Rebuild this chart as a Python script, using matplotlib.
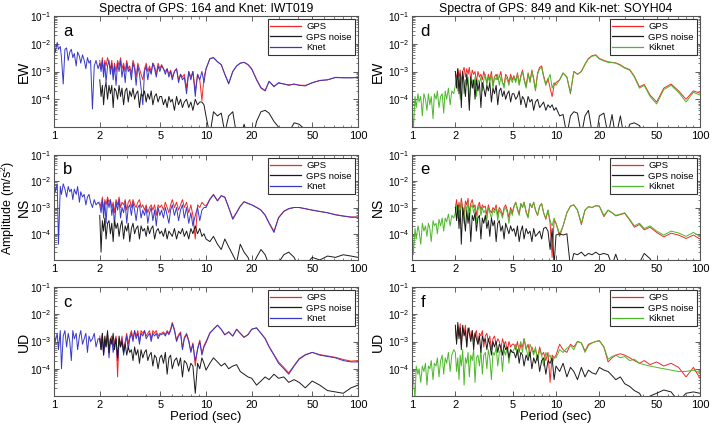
import matplotlib
matplotlib.use('Agg')
import matplotlib.pyplot as plt
import numpy as np
from matplotlib.ticker import LogLocator, NullFormatter, FixedLocator, FixedFormatter
from matplotlib.lines import Line2D

plt.rcParams['font.family'] = ['Liberation Sans', 'DejaVu Sans']
plt.rcParams['mathtext.default'] = 'regular'

# ---------------- data (amplitudes stored as log10 exponents) ----------------
period = [1.00, 1.02, 1.05, 1.07, 1.10, 1.12, 1.15, 1.18, 1.21, 1.24, 1.27, 1.30, 1.33, 1.36,
          1.40, 1.43, 1.47, 1.50, 1.54, 1.58, 1.62, 1.66, 1.70, 1.74, 1.79, 1.84, 1.89, 1.95,
          2.00, 2.04, 2.08, 2.12, 2.16, 2.20, 2.25, 2.30, 2.35, 2.40, 2.45, 2.50, 2.56, 2.62,
          2.68, 2.74, 2.80, 2.87, 2.94, 3.01, 3.08, 3.15, 3.23, 3.31, 3.39, 3.47, 3.56, 3.65,
          3.74, 3.84, 3.94, 4.04, 4.14, 4.25, 4.36, 4.47, 4.59, 4.71, 4.84, 4.97,
          5.1, 5.25, 5.4, 5.55, 5.7, 5.85, 6.0, 6.2, 6.4, 6.6, 6.8, 7.0, 7.2, 7.45, 7.7, 7.95,
          8.2, 8.5, 8.8, 9.1, 9.4, 9.7,
          10, 10.6, 11.2, 11.9, 12.6, 13.3, 14.1, 15, 15.9, 16.8, 17.8, 18.9,
          20, 21.5, 23, 24.5, 26, 28, 30, 32.5, 35, 38, 41, 45, 50, 56, 63, 71, 80, 90, 100]
gps_start = 28  # GPS spectra start at 2 s

# Panel a: EW, Knet IWT019
a_knet = [-2.0, -2.3, -1.95, -2.2, -2.1, -2.5, -3.45, -2.2, -2.15, -2.6, -2.3, -2.2, -2.5, -2.35, -2.8,
          -2.3, -2.45, -2.7, -2.4, -2.6, -2.9, -2.5, -2.7, -2.6, -4.35, -2.8, -2.6, -2.9,
          -2.7, -3.0, -2.6, -3.2, -2.7, -3.4, -2.8, -2.6, -3.1, -2.7, -3.3, -2.8, -3.5, -2.7, -3.0,
          -2.6, -3.2, -2.8, -3.4, -2.7, -3.0, -2.9, -3.3, -2.7, -2.9, -3.5, -2.8, -3.1, -3.6, -4.2,
          -3.0, -2.8, -3.3, -2.9, -3.1, -2.7, -2.9, -3.2, -2.8, -3.0,
          -2.8, -2.9, -3.1, -2.9, -3.2, -3.0, -3.3, -3.0, -2.9, -3.4, -3.1, -3.3, -3.2, -3.8, -3.0,
          -3.3, -3.0, -3.9, -3.1, -3.3, -3.0, -3.4,
          -2.9, -2.55, -2.5, -2.65, -2.75, -3.1, -3.45, -3.0, -2.8, -2.7, -2.67, -2.75,
          -2.9, -3.3, -3.6, -3.7, -3.35, -3.55, -3.4, -3.45, -3.5, -3.45, -3.5, -3.52, -3.4, -3.33,
          -3.3, -3.22, -3.23, -3.23, -3.22]
a_gps = [-2.6, -2.9, -2.5, -3.0, -2.6, -2.8, -2.5, -2.7, -2.9, -2.6, -3.1, -2.7, -3.0, -2.6, -2.8,
         -2.5, -2.9, -2.7, -3.0, -2.6, -2.9, -2.8, -3.1, -2.6, -2.8, -3.2, -2.7, -2.9, -3.1, -3.3,
         -2.9, -2.7, -3.0, -2.8, -3.0, -2.7, -2.8, -3.1, -2.7, -2.9,
         -2.75, -2.9, -3.0, -2.9, -3.1, -2.95, -3.2, -3.0, -2.9, -3.3, -3.1, -3.2, -3.1, -3.6, -3.0,
         -3.2, -3.0, -3.7, -3.1, -3.3, -4.05, -3.2,
         -2.92, -2.53, -2.5, -2.65, -2.76, -3.1, -3.42, -3.0, -2.8, -2.7, -2.67, -2.76,
         -2.92, -3.28, -3.58, -3.68, -3.36, -3.53, -3.42, -3.45, -3.48, -3.46, -3.49, -3.5, -3.41,
         -3.32, -3.3, -3.21, -3.22, -3.22, -3.21]
a_noise = [-3.3, -3.9, -3.5, -4.2, -3.6, -3.4, -4.0, -3.5, -3.8, -3.5, -4.3, -3.6, -3.7, -4.0, -3.5,
           -3.9, -3.6, -4.2, -3.7, -3.6, -4.1, -3.7, -3.9, -3.6, -4.0, -3.8, -3.7, -4.3, -3.8, -3.9,
           -3.7, -4.1, -3.8, -4.0, -3.7, -4.2, -3.9, -3.8, -4.1, -3.9,
           -3.9, -4.2, -4.0, -4.3, -3.9, -4.1, -4.0, -4.4, -3.9, -4.2, -4.0, -4.3, -4.1, -4.0, -4.3,
           -4.1, -4.4, -4.0, -4.2, -4.1, -4.1, -4.2,
           -4.6, -5.3, -4.45, -4.6, -4.5, -5.2, -4.6, -4.45, -5.3, -5.5, -4.9, -5.4,
           -5.6, -4.8, -4.45, -4.4, -4.5, -4.8, -5.0, -5.3, -5.2, -4.85, -4.9, -5.1, -5.3, -5.5,
           -5.4, -5.6, -5.5, -5.7, -5.6]

# Panel b: NS, Knet IWT019
b_knet = [-2.0, -2.4, -2.1, -4.4, -2.2, -2.5, -2.1, -2.3, -2.6, -2.2, -2.4, -2.3, -2.7, -2.3, -2.5,
          -2.2, -2.8, -2.4, -2.6, -2.5, -2.9, -2.6, -2.5, -2.8, -3.0, -2.7, -2.9, -2.8,
          -2.9, -3.2, -2.7, -3.4, -2.8, -3.6, -2.7, -3.0, -2.7, -3.3, -2.9, -3.7, -2.8, -3.1, -2.7,
          -3.4, -3.0, -3.2, -2.8, -3.6, -3.0, -2.9, -3.3, -2.8, -3.1, -3.5, -3.0, -2.9, -3.4, -3.1,
          -3.3, -3.0, -3.6, -3.2, -3.0, -3.5, -3.1, -3.7, -3.0, -3.3,
          -3.1, -3.4, -3.0, -3.3, -3.6, -3.1, -2.9, -3.3, -3.0, -3.5, -3.1, -2.9, -3.4, -3.0, -3.6,
          -3.2, -3.7, -3.3, -3.0, -3.5, -3.1, -3.0,
          -3.0, -2.7, -2.52, -2.75, -2.55, -2.6, -3.0, -3.45, -3.2, -2.95, -2.78, -2.85,
          -2.9, -3.0, -3.1, -3.3, -3.6, -3.95, -3.4, -3.15, -3.05, -3.0, -3.0, -3.05, -3.1, -3.15,
          -3.2, -3.28, -3.33, -3.37, -3.37]
b_gps = [-2.8, -3.0, -2.6, -3.1, -2.7, -2.9, -2.6, -2.8, -2.7, -3.0, -2.8, -3.2, -2.7, -2.9, -2.6,
         -3.0, -2.8, -2.9, -2.7, -3.1, -2.8, -2.7, -3.0, -2.7, -2.9, -3.0, -2.8, -2.7, -3.0, -2.9,
         -3.1, -2.9, -3.2, -3.0, -2.9, -3.1, -2.9, -3.3, -2.9, -3.0,
         -2.9, -3.1, -2.8, -3.0, -3.2, -2.9, -2.7, -3.0, -2.8, -3.1, -2.9, -2.7, -3.0, -2.8, -3.2,
         -2.9, -3.3, -4.2, -2.9, -3.0, -2.8, -2.9,
         -2.95, -2.68, -2.5, -2.74, -2.55, -2.62, -3.0, -3.42, -3.18, -2.95, -2.78, -2.84,
         -2.9, -2.99, -3.1, -3.28, -3.58, -3.9, -3.38, -3.14, -3.04, -3.0, -3.0, -3.04, -3.1,
         -3.15, -3.2, -3.27, -3.32, -3.36, -3.36]
b_noise = [-3.3, -4.7, -3.5, -3.9, -3.4, -4.2, -3.6, -3.5, -4.0, -3.6, -4.3, -3.5, -3.8, -3.6, -4.1,
           -3.7, -3.5, -4.2, -3.7, -3.9, -3.6, -4.3, -3.8, -3.6, -4.0, -3.8, -3.7, -4.2, -3.7, -3.9,
           -3.8, -4.1, -3.7, -4.0, -3.8, -3.7, -4.2, -3.9, -3.8, -4.0,
           -3.9, -4.1, -3.8, -4.2, -3.9, -4.0, -4.1, -3.8, -4.2, -3.9, -4.0, -3.8, -4.1, -3.9, -4.2,
           -3.8, -4.0, -3.7, -4.0, -3.8, -4.1, -4.0,
           -4.2, -4.3, -4.1, -4.4, -4.6, -4.2, -4.5, -4.8, -5.1, -4.4, -4.7, -4.9,
           -5.3, -4.9, -4.6, -4.8, -5.2, -5.4, -5.1, -4.8, -4.7, -4.9, -5.3, -5.2, -4.9, -5.0,
           -4.85, -4.9, -4.8, -4.85, -4.9]

# Panel c: UD, Knet IWT019
c_knet = [-2.6, -3.0, -2.7, -3.3, -2.6, -4.0, -2.8, -2.6, -3.2, -2.7, -3.0, -3.7, -2.6, -2.9, -2.7,
          -3.3, -2.8, -2.6, -3.1, -2.9, -2.7, -3.4, -2.8, -3.0, -2.9, -2.7, -3.2, -2.9,
          -2.9, -3.3, -2.8, -3.5, -3.0, -3.2, -2.8, -3.6, -3.0, -2.9, -3.4, -3.1, -2.9, -3.7, -3.0,
          -3.2, -2.9, -3.5, -3.1, -2.8, -3.3, -2.9, -2.7, -3.0, -2.6, -2.9, -2.7, -3.1, -2.7, -2.8,
          -2.6, -2.9, -2.8, -2.7, -3.0, -2.7, -2.8, -2.7, -2.9, -2.75,
          -2.75, -2.7, -2.8, -2.65, -2.75, -2.6, -2.35, -2.6, -3.0, -2.8, -2.7, -3.3, -2.9, -2.75,
          -3.0, -3.4, -3.1, -3.7, -3.3, -3.0, -3.5, -3.2,
          -3.05, -2.7, -2.55, -2.4, -2.55, -2.75, -2.65, -2.8, -2.55, -2.7, -2.85, -2.75,
          -2.55, -2.5, -2.7, -2.9, -3.2, -3.5, -3.8, -4.0, -4.2, -3.9, -3.65, -3.5, -3.4, -3.5,
          -3.55, -3.6, -3.7, -3.75, -3.75]
c_gps = [-2.8, -3.2, -2.7, -3.4, -2.9, -3.1, -2.7, -3.4, -2.9, -2.8, -3.2, -3.0, -2.8, -4.3, -2.9,
         -3.1, -2.8, -3.3, -3.0, -2.7, -3.1, -2.8, -2.6, -2.9, -2.6, -2.8, -2.6, -3.0, -2.6, -2.7,
         -2.6, -2.8, -2.7, -2.6, -2.9, -2.6, -2.7, -2.6, -2.8, -2.7,
         -2.7, -2.65, -2.75, -2.6, -2.7, -2.55, -2.3, -2.55, -2.95, -2.75, -2.65, -3.25, -2.85,
         -2.7, -2.95, -3.35, -3.05, -3.9, -3.25, -2.95, -3.45, -3.15,
         -3.0, -2.68, -2.55, -2.4, -2.56, -2.76, -2.64, -2.8, -2.55, -2.7, -2.84, -2.74,
         -2.55, -2.5, -2.7, -2.88, -3.18, -3.48, -3.75, -3.95, -4.15, -3.88, -3.63, -3.48, -3.4,
         -3.48, -3.53, -3.58, -3.66, -3.72, -3.7]
c_noise = [-2.9, -3.3, -2.7, -3.5, -2.8, -3.2, -2.6, -3.4, -2.9, -3.1, -2.7, -3.3, -2.9, -3.6, -2.8,
           -3.2, -3.0, -3.4, -3.1, -3.5, -3.2, -3.4, -3.3, -3.7, -3.2, -3.5, -3.3, -3.8, -3.3, -3.6,
           -3.4, -3.3, -3.7, -3.5, -3.4, -3.9, -3.5, -3.6, -4.0, -3.6,
           -3.5, -3.8, -3.4, -4.2, -3.6, -3.5, -4.0, -3.7, -3.6, -3.9, -3.6, -4.3, -3.7, -3.8, -4.1,
           -3.8, -3.9, -4.9, -3.8, -4.0, -3.6, -3.8,
           -4.05, -3.8, -3.6, -3.75, -3.9, -3.8, -4.0, -3.9, -3.85, -4.1, -4.2, -4.3,
           -4.35, -4.6, -4.45, -4.3, -4.4, -4.2, -4.35, -4.3, -4.5, -4.4, -4.5, -4.7, -4.45, -4.6,
           -4.8, -4.85, -4.9, -4.7, -4.6]

# Panel d: EW, Kik-net SOYH04
d_kik = [-4.0, -5.2, -3.9, -4.3, -3.8, -4.1, -3.9, -4.6, -3.8, -4.0, -4.4, -3.8, -4.2, -3.9, -4.7,
         -3.8, -4.0, -3.7, -4.3, -3.9, -3.8, -4.5, -3.7, -4.0, -3.6, -4.2, -3.7, -3.8,
         -3.5, -3.2, -3.7, -3.3, -4.0, -3.4, -3.2, -3.8, -3.3, -3.5, -3.2, -4.1, -3.4, -3.3, -3.6,
         -3.2, -3.9, -3.3, -3.4, -3.2, -3.7, -3.3, -3.1, -3.5, -3.2, -3.4, -3.1, -3.6, -3.2, -3.3,
         -3.1, -3.5, -3.2, -3.4, -3.6, -3.2, -3.3, -3.5, -3.2, -3.4,
         -3.2, -3.4, -3.1, -3.5, -3.2, -3.0, -3.3, -3.6, -3.1, -3.4, -3.0, -3.3, -3.7, -3.1, -2.9,
         -2.85, -3.2, -3.5, -3.3, -3.1, -3.6, -3.4,
         -3.5, -3.3, -3.06, -3.2, -3.75, -3.0, -3.1, -3.0, -2.75, -2.55, -2.45, -2.42,
         -2.55, -2.62, -2.67, -2.68, -2.7, -2.78, -2.88, -2.95, -3.2, -3.6, -3.5, -3.9, -4.17,
         -3.65, -3.5, -3.75, -4.1, -3.75, -3.85]
d_gps = [-3.0, -3.3, -2.9, -3.2, -2.95, -3.4, -3.0, -2.85, -3.2, -2.9, -3.1, -2.85, -3.3, -2.95,
         -3.1, -3.0, -3.4, -3.0, -3.2, -3.1, -3.3, -3.0, -3.2, -3.4, -3.1, -3.3, -3.0, -3.5, -3.2,
         -3.1, -3.3, -3.2, -3.0, -3.4, -3.5, -3.1, -3.2, -3.4, -3.1, -3.3,
         -3.15, -3.35, -3.05, -3.45, -3.15, -2.95, -3.25, -3.55, -3.05, -3.35, -2.95, -3.25, -3.65,
         -3.05, -2.85, -2.8, -3.15, -3.45, -3.25, -3.6, -3.9, -3.5,
         -3.4, -3.3, -3.05, -3.2, -3.8, -3.0, -3.1, -3.0, -2.73, -2.53, -2.43, -2.4,
         -2.53, -2.6, -2.65, -2.67, -2.69, -2.76, -2.86, -2.93, -3.17, -3.55, -3.47, -3.85, -4.1,
         -3.6, -3.45, -3.7, -4.0, -3.7, -3.78]
d_noise = [-3.0, -3.6, -2.9, -3.8, -3.1, -4.3, -3.0, -3.4, -3.9, -3.1, -3.5, -4.4, -3.2, -3.6, -3.3,
           -4.0, -3.3, -3.7, -3.4, -4.3, -3.4, -3.6, -3.9, -3.5, -3.7, -3.4, -4.1, -3.6, -3.8, -3.5,
           -4.2, -3.7, -3.6, -3.9, -3.7, -4.0, -3.8, -3.7, -4.1, -3.8,
           -3.8, -4.0, -3.9, -3.7, -4.2, -3.9, -4.0, -4.3, -3.9, -4.1, -4.0, -4.4, -4.1, -4.0, -4.3,
           -4.2, -4.1, -4.4, -4.2, -4.3, -4.2, -4.4,
           -4.3, -4.6, -4.55, -5.3, -4.6, -4.45, -4.5, -5.3, -4.6, -4.4, -5.2, -5.5,
           -4.6, -4.5, -5.3, -4.55, -5.4, -4.6, -5.5, -4.9, -4.85, -4.95, -5.3, -5.6, -5.7, -5.8,
           -5.7, -5.9, -5.8, -5.9, -6.0]

# Panel e: NS, Kik-net SOYH04
e_kik = [-3.75, -4.8, -3.8, -4.2, -3.7, -3.9, -4.4, -3.6, -3.9, -3.7, -4.1, -3.6, -3.8, -4.3, -3.5,
         -3.7, -3.6, -4.0, -3.45, -3.7, -3.4, -3.9, -3.4, -3.55, -3.25, -3.7, -3.3, -3.4,
         -3.2, -2.9, -3.4, -3.0, -3.3, -2.8, -3.2, -3.6, -2.9, -3.1, -2.8, -3.5, -3.0, -2.9, -3.2,
         -3.0, -3.6, -3.1, -2.9, -3.3, -3.0, -3.2, -3.1, -3.5, -3.0, -3.2, -3.4, -3.1, -3.2, -3.0,
         -3.5, -3.1, -3.2, -3.4, -3.1, -3.0, -3.2, -3.6, -3.1, -3.3,
         -3.0, -2.8, -3.1, -3.3, -2.85, -3.0, -2.8, -3.2, -3.4, -2.85, -3.0, -2.8, -3.1, -3.3,
         -2.95, -2.85, -3.2, -3.4, -3.1, -3.5, -3.7, -3.4,
         -3.6, -4.0, -3.7, -3.2, -2.95, -2.9, -3.1, -3.6, -3.1, -2.97, -3.0, -2.93,
         -2.95, -3.3, -3.1, -3.2, -3.3, -3.25, -3.2, -3.45, -3.7, -3.6, -3.8, -3.7, -3.9, -4.05,
         -3.9, -3.97, -4.1, -3.95, -4.1]
e_gps = [-3.0, -2.7, -3.2, -2.8, -3.1, -2.65, -3.0, -3.3, -2.75, -2.9, -2.65, -3.2, -2.85, -2.7,
         -3.0, -2.9, -3.3, -2.95, -2.8, -3.1, -2.9, -3.0, -2.95, -3.3, -2.9, -3.1, -3.2, -3.0, -3.1,
         -2.9, -3.3, -3.0, -3.1, -3.3, -3.0, -2.9, -3.1, -3.4, -3.0, -3.2,
         -2.95, -2.8, -3.05, -3.25, -2.85, -3.0, -2.8, -3.15, -3.35, -2.85, -3.0, -2.8, -3.1, -3.3,
         -2.95, -2.85, -3.2, -3.45, -3.1, -3.6, -4.9, -3.5,
         -3.6, -4.1, -3.7, -3.2, -2.95, -2.9, -3.1, -3.65, -3.1, -2.97, -3.0, -2.93,
         -2.95, -3.35, -3.1, -3.2, -3.32, -3.27, -3.22, -3.48, -3.75, -3.65, -3.85, -3.75, -3.95,
         -4.12, -3.98, -4.05, -4.18, -4.05, -4.2]
e_noise = [-3.0, -3.5, -2.9, -3.8, -3.1, -4.4, -3.0, -3.4, -3.9, -3.1, -3.6, -3.2, -4.3, -3.3, -3.5,
           -3.2, -3.9, -3.4, -3.3, -4.2, -3.4, -3.6, -3.3, -3.8, -3.5, -4.1, -3.4, -3.7, -3.5, -4.3,
           -3.6, -3.5, -3.9, -3.7, -4.2, -3.6, -3.8, -4.0, -3.7, -3.9,
           -3.8, -4.1, -3.7, -4.3, -3.9, -3.7, -4.2, -3.8, -4.0, -3.9, -4.3, -3.8, -4.1, -4.0, -3.9,
           -4.2, -3.8, -3.75, -3.9, -4.6, -3.8, -5.2,
           -4.05, -4.0, -4.05, -4.0, -5.3, -4.75, -4.8, -4.7, -4.85, -4.75, -4.8, -4.7,
           -4.8, -4.75, -4.8, -5.2, -4.78, -5.3, -5.5, -5.4, -5.6, -5.1, -4.75, -4.95, -5.4, -5.3,
           -5.5, -5.2, -5.4, -5.3, -5.5]

# Panel f: UD, Kik-net SOYH04
f_kik = [-4.0, -4.3, -5.1, -3.9, -4.2, -4.0, -4.5, -3.9, -4.1, -3.8, -4.6, -3.9, -4.0, -3.7, -4.4,
         -3.8, -3.9, -3.6, -4.3, -3.7, -3.5, -4.2, -3.6, -3.8, -3.4, -4.1, -3.5, -3.3,
         -3.4, -4.1, -3.6, -4.4, -3.5, -3.9, -3.3, -4.6, -3.6, -3.8, -3.4, -4.3, -3.5, -3.7, -3.3,
         -4.5, -3.6, -3.5, -3.9, -3.3, -4.2, -3.5, -3.4, -4.0, -3.3, -3.6, -4.4, -3.4, -3.5, -3.2,
         -3.9, -3.4, -3.3, -4.1, -3.3, -3.5, -3.2, -3.8, -3.3, -3.4,
         -3.3, -3.1, -3.5, -3.2, -3.0, -3.4, -2.9, -3.2, -3.6, -3.1, -3.3, -3.5, -3.2, -3.7, -3.3,
         -3.5, -3.9, -3.4, -3.6, -3.5, -3.8, -3.6,
         -3.6, -3.3, -3.4, -3.25, -3.15, -3.3, -3.0, -3.05, -3.4, -3.15, -3.05, -3.0,
         -2.97, -3.2, -3.65, -3.55, -3.5, -3.6, -3.55, -3.7, -3.65, -3.8, -3.85, -3.9, -3.95,
         -4.0, -4.05, -4.1, -4.1, -4.05, -4.15]
f_gps = [-2.5, -3.0, -2.4, -2.8, -2.35, -3.1, -2.5, -2.7, -2.4, -3.2, -2.6, -2.5, -2.9, -2.6, -3.0,
         -2.7, -2.6, -3.1, -2.7, -2.8, -2.6, -3.2, -2.8, -2.7, -3.0, -2.8, -3.3, -2.9, -2.8, -3.1,
         -2.9, -3.0, -3.3, -2.9, -3.1, -3.0, -3.4, -3.0, -3.2, -3.1,
         -3.1, -3.3, -3.0, -3.4, -3.1, -3.2, -2.9, -3.3, -3.1, -3.5, -3.2, -3.4, -3.3, -3.6, -3.2,
         -3.5, -3.4, -3.7, -3.4, -4.5, -3.5, -3.6,
         -3.5, -3.1, -3.3, -3.4, -3.1, -3.2, -3.0, -3.05, -3.35, -3.1, -3.05, -3.0,
         -2.97, -3.2, -3.75, -3.6, -3.5, -3.45, -3.5, -3.6, -3.7, -3.8, -3.7, -3.85, -3.75, -3.9,
         -3.8, -3.95, -4.3, -3.95, -4.35]
f_noise = [-2.4, -3.1, -2.3, -2.9, -2.5, -3.3, -2.4, -2.8, -2.6, -3.2, -2.5, -2.7, -3.0, -2.6, -3.3,
           -2.7, -2.9, -3.1, -2.8, -3.4, -2.8, -3.0, -2.9, -3.3, -2.9, -3.1, -3.5, -3.0, -3.2, -3.0,
           -3.4, -3.1, -3.2, -3.5, -3.1, -3.3, -3.2, -3.6, -3.3, -3.4,
           -3.4, -3.6, -3.3, -3.8, -3.4, -3.5, -3.9, -3.5, -3.7, -3.4, -4.0, -3.6, -3.8, -3.5, -4.1,
           -3.7, -3.6, -4.2, -3.7, -3.8, -3.6, -4.4,
           -3.9, -4.1, -3.8, -4.3, -3.95, -4.1, -4.4, -3.95, -4.3, -4.05, -4.15, -4.2,
           -3.95, -4.05, -4.1, -4.25, -4.4, -4.3, -4.55, -4.65, -4.8, -4.9, -5.2, -5.0, -4.9, -4.78,
           -4.85, -5.2, -4.9, -4.85, -4.9]

titles = ['Spectra of GPS: 164 and Knet: IWT019', 'Spectra of GPS: 849 and Kik-net: SOYH04']
components = ['EW', 'NS', 'UD']
letters = ['a', 'b', 'c', 'd', 'e', 'f']
xticks = [1, 2, 5, 10, 20, 50, 100]
yticks = [1e-4, 1e-3, 1e-2, 1e-1]
ytick_labels = ['$10^{-4}$', '$10^{-3}$', '$10^{-2}$', '$10^{-1}$']

# ---------------- figure ----------------
W, H = 721, 425
fig = plt.figure(figsize=(W / 100, H / 100), dpi=100)

def px_axes(x0, y0, x1, y1):
    return fig.add_axes([x0 / W, 1 - y1 / H, (x1 - x0) / W, (y1 - y0) / H])

col_x = [(54, 358), (412, 700)]
row_y = [(16, 127), (155, 260), (287, 396)]
ylabel_px = [31, 385]  # right edge of the component labels

C_GPS = '#f02828'
C_NOISE = '#1a1a1a'
C_KNET = '#3838c8'
C_KIK = '#4cb82a'

panel_data = [
    (0, 0, a_knet, a_gps, a_noise, C_KNET, 'Knet'),
    (0, 1, b_knet, b_gps, b_noise, C_KNET, 'Knet'),
    (0, 2, c_knet, c_gps, c_noise, C_KNET, 'Knet'),
    (1, 0, d_kik, d_gps, d_noise, C_KIK, 'Kiknet'),
    (1, 1, e_kik, e_gps, e_noise, C_KIK, 'Kiknet'),
    (1, 2, f_kik, f_gps, f_noise, C_KIK, 'Kiknet'),
]

P = np.array(period)
Pg = P[gps_start:]
lw = 0.7

for i, (col, row, ref, gps, noise, cref, lref) in enumerate(panel_data):
    x0, x1 = col_x[col]
    y0, y1 = row_y[row]
    ax = px_axes(x0, y0, x1, y1)
    ax.plot(Pg, 10 ** np.array(gps), color=C_GPS, lw=lw)
    ax.plot(P, 10 ** np.array(ref), color=cref, lw=lw)
    ax.plot(Pg, 10 ** np.array(noise), color=C_NOISE, lw=lw)
    ax.set_xscale('log')
    ax.set_yscale('log')
    ax.set_xlim(1, 100)
    ax.set_ylim(1e-5, 1e-1)
    ax.xaxis.set_major_locator(FixedLocator(xticks))
    ax.xaxis.set_major_formatter(FixedFormatter([str(t) for t in xticks]))
    ax.xaxis.set_minor_locator(LogLocator(base=10, subs=np.arange(2, 10)))
    ax.xaxis.set_minor_formatter(NullFormatter())
    ax.yaxis.set_major_locator(FixedLocator(yticks))
    ax.yaxis.set_major_formatter(FixedFormatter(ytick_labels))
    ax.yaxis.set_minor_locator(LogLocator(base=10, subs=np.arange(2, 10)))
    ax.yaxis.set_minor_formatter(NullFormatter())
    ax.tick_params(which='both', direction='in', top=True, right=True, color='#444444')
    ax.tick_params(axis='x', which='major', labelsize=8, pad=3)
    ax.tick_params(axis='y', which='major', labelsize=7.2, pad=2)
    ax.tick_params(which='major', length=3.5, width=0.6)
    ax.tick_params(which='minor', length=1.8, width=0.5)
    for s in ax.spines.values():
        s.set_color('#555555')
        s.set_linewidth(0.8)
    ax.set_ylabel(components[row], fontsize=10)
    ax.yaxis.set_label_coords((ylabel_px[col] - x0) / (x1 - x0), 0.5)
    ax.text(0.03, 0.86, letters[i], transform=ax.transAxes, fontsize=12,
            ha='left', va='center')
    handles = [Line2D([], [], color=C_GPS, lw=0.9),
               Line2D([], [], color=C_NOISE, lw=0.9),
               Line2D([], [], color=cref, lw=0.9)]
    leg = ax.legend(handles, ['GPS', 'GPS noise', lref], loc='upper right',
                    fontsize=6.8, frameon=True, fancybox=False, framealpha=1,
                    edgecolor='#333333', borderaxespad=0.35, handlelength=3.2,
                    handletextpad=0.6, labelspacing=0.15, borderpad=0.3)
    leg.get_frame().set_linewidth(0.8)
    if row == 0:
        ax.set_title(titles[col], fontsize=8.8, pad=3)
    if row == 2:
        ax.set_xlabel('Period (sec)', fontsize=9.5)
        ax.xaxis.set_label_coords(0.5, (y1 - 411) / (y1 - y0))

fig.text(8 / W, 1 - 208 / H, 'Amplitude (m/s$^2$)', rotation=90, fontsize=9,
         ha='center', va='center')

fig.savefig('out.png', dpi=100)
